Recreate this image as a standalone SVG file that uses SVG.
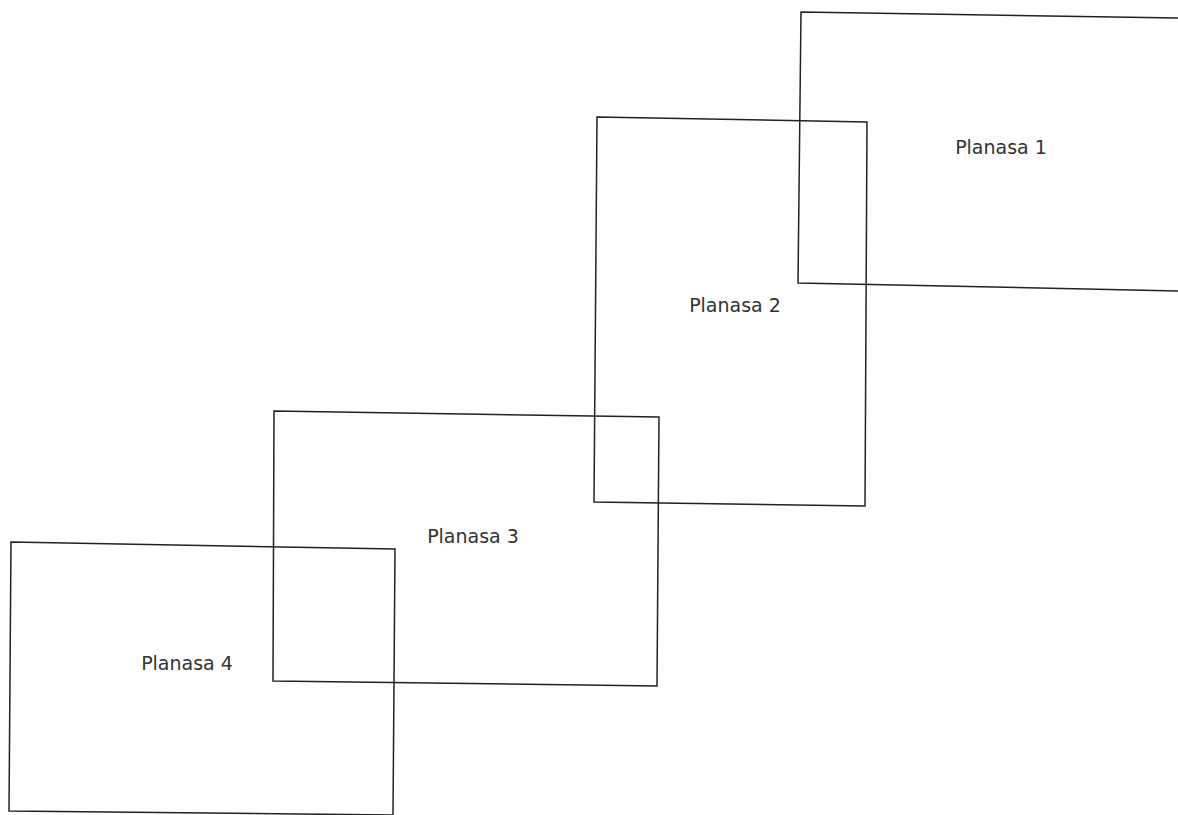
<svg xmlns="http://www.w3.org/2000/svg" width="1178" height="815" viewBox="0 0 1178 815">
<style>
.box{fill:none;stroke:#222;stroke-width:1.5;stroke-linejoin:miter}
.lbl{font-family:"DejaVu Sans",Verdana,sans-serif;font-size:19px;fill:#333;text-anchor:middle}
</style>
<rect width="1178" height="815" fill="#fff"/>
<g id="planasa1">
<polygon class="box" points="801,12 1179,18 1179,291 798,283"/>
<text class="lbl" x="1001" y="154">Planasa 1</text>
</g>
<g id="planasa2">
<polygon class="box" points="597,117 867,122 865,506 594,502"/>
<text class="lbl" x="735" y="312">Planasa 2</text>
</g>
<g id="planasa3">
<polygon class="box" points="274,411 659,417 657,686 273,681"/>
<text class="lbl" x="473" y="543">Planasa 3</text>
</g>
<g id="planasa4">
<polygon class="box" points="11,542 395,549 393,815 9,811"/>
<text class="lbl" x="187" y="670">Planasa 4</text>
</g>
<g id="connectors"></g>
</svg>
